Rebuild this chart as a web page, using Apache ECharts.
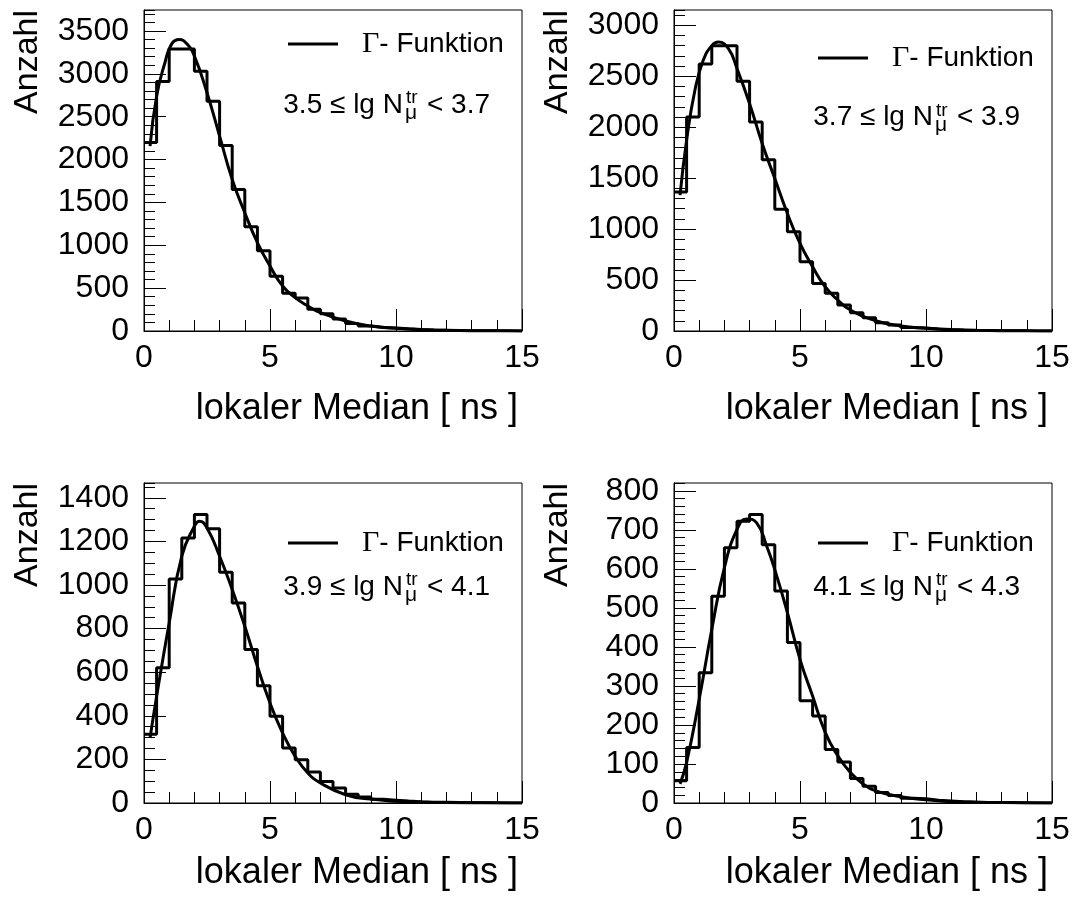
<!DOCTYPE html>
<html><head><meta charset="utf-8">
<script src="https://cdn.jsdelivr.net/npm/echarts@6/dist/echarts.min.js"></script>
<style>html,body{margin:0;padding:0;background:#fff}#c{width:1077px;height:898px}</style>
</head><body><div id="c"></div>
<script>
// ---------------- data ----------------
const binWidth = 0.5;          // histogram bin width [ns], bins start at 0
const hist1 = [2200, 2910, 3290, 3290, 3030, 2680, 2165, 1650, 1215, 935, 640, 440, 385, 255, 200, 140, 88, 58, 42, 35, 25, 18, 12, 9, 6, 4, 3, 2, 2, 1];
const hist2 = [1365, 2100, 2620, 2800, 2800, 2450, 2050, 1680, 1195, 975, 680, 467, 370, 255, 180, 130, 82, 58, 35, 30, 20, 14, 10, 7, 5, 3, 2, 2, 1, 1];
const hist3 = [315, 620, 1028, 1216, 1323, 1258, 1058, 918, 704, 538, 398, 252, 198, 142, 99, 69, 40, 27, 17, 13, 9, 6, 4, 3, 2, 1, 1, 1, 0, 0];
const hist4 = [57, 142, 334, 530, 654, 722, 739, 662, 543, 411, 262, 223, 137, 105, 63, 43, 27, 19, 12, 11, 7, 5, 3, 2, 1, 1, 1, 0, 0, 0];

const fit1X = [0.24, 0.5, 0.83, 1.1, 1.4, 1.7, 2.0, 2.5, 3.0, 3.5, 4.0, 4.5, 5.0, 5.5, 6.0, 6.5, 7.0, 8.0, 9.0, 10, 11, 12, 13, 14, 15];
const fit1Y = [2157, 2740, 3130, 3350, 3400, 3350, 3207, 2780, 2274, 1769, 1380, 1031, 758, 525, 389, 292, 214, 117, 58, 31, 15, 8, 4, 2, 1];
const fit2X = [0.24, 0.5, 0.83, 1.16, 1.5, 1.76, 2.16, 2.5, 3.0, 3.5, 4.0, 4.5, 5.0, 5.5, 6.0, 6.5, 7.0, 8.0, 9.0, 10, 11, 12, 13, 14, 15];
const fit2Y = [1333, 1872, 2362, 2656, 2800, 2835, 2770, 2575, 2231, 1840, 1496, 1153, 859, 630, 434, 304, 206, 101, 49, 26, 12, 6, 3, 1.5, 1];
const fit3X = [0.24, 0.5, 1.0, 1.5, 2.0, 2.2, 2.5, 3.0, 3.5, 4.0, 4.5, 5.0, 5.5, 6.0, 6.5, 7.0, 8.0, 9.0, 10, 11, 12, 13, 14, 15];
const fit3Y = [298, 489, 826, 1132, 1270, 1293, 1262, 1132, 979, 811, 627, 459, 321, 214, 138, 92, 38, 18, 8, 4, 2, 1, 0.5, 0];
const fit4X = [0.24, 0.5, 1.0, 1.5, 2.0, 2.5, 2.88, 3.28, 3.68, 4.0, 4.5, 5.0, 5.5, 6.0, 6.5, 7.0, 7.5, 8.0, 9.0, 10, 11, 12, 13, 14, 15];
const fit4Y = [49, 104, 266, 445, 603, 701, 728, 718, 658, 598, 488, 368, 274, 181, 121, 78, 49, 31, 16, 8, 4, 2, 1, 0.5, 0];

const xMin = 0, xMax = 15, xMajor = 5, xMinorSplit = 5;
const yMax = [3745, 3150, 1468, 820];
const yMajor = [500, 500, 200, 100];
const yMinor = [100, 100, 50, 20];
const rangeLo = ['3.5', '3.7', '3.9', '4.1'];
const rangeHi = ['3.7', '3.9', '4.1', '4.3'];
const fitName = 'Γ- Funktion';
const xTitle = 'lokaler Median [ ns ]';
const yTitle = 'Anzahl';

const hists = [hist1, hist2, hist3, hist4];
const fitXs = [fit1X, fit2X, fit3X, fit4X];
const fitYs = [fit1Y, fit2Y, fit3Y, fit4Y];

// ---------------- layout ----------------
const FONT = '"Liberation Sans", Arial, Helvetica, sans-serif';
const panels = [
  {left: 144, top: 10, height: 321, legTop: 24, textC: 105, titlePad: 60},
  {left: 674, top: 10, height: 321, legTop: 38, textC: 117.5, titlePad: 60},
  {left: 144, top: 483, height: 320, legTop: 523, textC: 587, titlePad: 52},
  {left: 674, top: 483, height: 320, legTop: 523, textC: 587, titlePad: 52}
];
const W = 378;
const ANN = 28;
const meas = document.createElement('canvas').getContext('2d');
function textW(t, size) { meas.font = size + 'px ' + FONT; return meas.measureText(t).width; }

const grid = [], xAxis = [], yAxis = [], series = [], legend = [], graphic = [];
panels.forEach((p, i) => {
  grid.push({left: p.left, top: p.top, width: W, height: p.height, show: true,
    borderColor: '#000', borderWidth: 1, backgroundColor: 'transparent'});
  xAxis.push({
    type: 'value', gridIndex: i, min: xMin, max: xMax, interval: xMajor,
    axisLine: {show: true, onZero: false, lineStyle: {color: '#000', width: 1}},
    axisTick: {show: true, inside: true, length: 22, lineStyle: {color: '#000', width: 1}},
    minorTick: {show: true, splitNumber: xMinorSplit, length: 11, lineStyle: {color: '#000', width: 1}},
    splitLine: {show: false}, minorSplitLine: {show: false},
    axisLabel: {fontSize: 32, color: '#000', fontFamily: FONT, margin: 11, formatter: v => String(v)},
    name: xTitle, nameLocation: 'end', nameGap: -4,
    nameTextStyle: {fontSize: 36, color: '#000', fontFamily: FONT, align: 'right', verticalAlign: 'top', padding: [p.titlePad, 0, 0, 0]}
  });
  yAxis.push({
    type: 'value', gridIndex: i, position: 'left', min: 0, max: yMax[i], interval: yMajor[i],
    axisLine: {show: true, onZero: false, lineStyle: {color: '#000', width: 1}},
    axisTick: {show: true, inside: true, length: 22, lineStyle: {color: '#000', width: 1}},
    splitLine: {show: false},
    axisLabel: {fontSize: 32, color: '#000', fontFamily: FONT, margin: 15, showMaxLabel: false, formatter: v => String(v)},
    name: yTitle, nameLocation: 'end', nameRotate: 90, nameGap: 0,
    nameTextStyle: {fontSize: 34, color: '#000', fontFamily: FONT, align: 'right', verticalAlign: 'bottom', padding: [0, 0, 99, 0]}
  });
  yAxis.push({
    type: 'value', gridIndex: i, position: 'left', min: 0, max: yMax[i], interval: yMinor[i],
    axisLine: {show: false},
    axisTick: {show: true, inside: true, length: 11, lineStyle: {color: '#000', width: 1}},
    splitLine: {show: false}, axisLabel: {show: false}
  });
  const h = hists[i];
  const stepData = h.map((v, k) => [xMin + k * binWidth, v]);
  stepData.push([xMin + h.length * binWidth, h[h.length - 1]]);
  series.push({
    name: 'Histogramm', type: 'line', xAxisIndex: i, yAxisIndex: 2 * i, data: stepData,
    step: 'end', symbol: 'none', lineStyle: {color: '#000', width: 3}, z: 3, silent: true
  });
  series.push({
    name: fitName, type: 'line', xAxisIndex: i, yAxisIndex: 2 * i,
    data: fitXs[i].map((x, k) => [x, fitYs[i][k]]),
    smooth: true, symbol: 'none', lineStyle: {color: '#000', width: 3}, itemStyle: {color: '#000'}, z: 4, silent: true
  });
  legend.push({
    left: p.left + 139, top: p.legTop, orient: 'vertical', icon: 'rect', itemWidth: 50, itemHeight: 3,
    itemStyle: {color: '#000'}, selectedMode: false, data: [fitName],
    formatter: () => '{g|Γ}{t|- Funktion}',
    textStyle: {color: '#000', padding: [0, 0, 0, 19],
      rich: {g: {fontFamily: '"Liberation Serif", serif', fontSize: 30, color: '#000'},
             t: {fontFamily: FONT, fontSize: 28, color: '#000'}}}
  });
  const x0 = p.left + 139.3, c = p.textC;
  const main = rangeLo[i] + ' ≤ lg N';
  const nEnd = x0 + textW(main, ANN);
  graphic.push({type: 'text', x: x0, y: c, style: {text: main, font: ANN + 'px ' + FONT, fill: '#000', align: 'left', verticalAlign: 'middle'}});
  graphic.push({type: 'text', x: nEnd + 3, y: c - 7, style: {text: 'tr', font: '19px ' + FONT, fill: '#000', align: 'left', verticalAlign: 'middle'}});
  graphic.push({type: 'text', x: nEnd + 2, y: c + 8, style: {text: 'μ', font: '21px ' + FONT, fill: '#000', align: 'left', verticalAlign: 'middle'}});
  graphic.push({type: 'text', x: p.left + 346, y: c, style: {text: '< ' + rangeHi[i], font: ANN + 'px ' + FONT, fill: '#000', align: 'right', verticalAlign: 'middle'}});
});

const chart = echarts.init(document.getElementById('c'), null, {renderer: 'canvas'});
chart.setOption({animation: false, backgroundColor: '#fff', grid, xAxis, yAxis, series, legend, graphic});
</script></body></html>
